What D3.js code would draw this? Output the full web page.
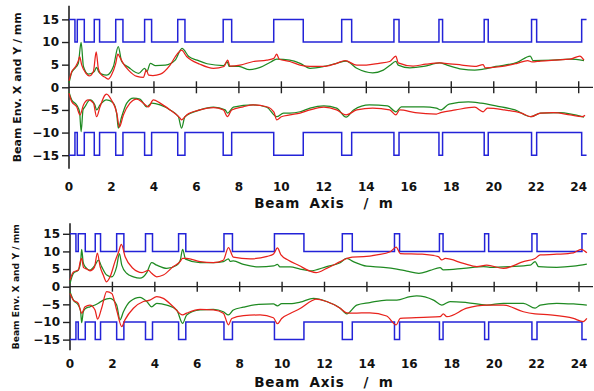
<!DOCTYPE html>
<html>
<head>
<meta charset="utf-8">
<script src="https://cdn.jsdelivr.net/npm/d3@7"></script>
<style>
  html, body { margin: 0; padding: 0; background: #fff; }
  svg { display: block; }
  text { font-family: "DejaVu Sans", sans-serif; font-weight: bold; fill: #111; }
</style>
</head>
<body>
<svg id="chart" width="594" height="391"></svg>
<script>
// ---------------- DATA ----------------
const xTicks = [0, 2, 4, 6, 8, 10, 12, 14, 16, 18, 20, 22, 24];
const yTicks = [-15, -10, -5, 0, 5, 10, 15];
const xTitle = "Beam Axis  / m";
const yTitle = "Beam Env. X and Y  / mm";

// aperture (blue): segment edges [m] and half-aperture [mm] of each segment
const apertureEdges = [0, 0.28, 0.39, 0.72, 1.19, 1.44, 2.20, 2.54, 3.56, 3.89, 5.12, 5.46, 7.26, 7.66, 9.64,
  11.03, 12.84, 13.31, 15.30, 15.54, 17.42, 17.59, 19.55, 19.74, 21.78, 22.02, 24.14, 24.37];
const apertureRadius = [15, 10, 15, 10, 15, 10, 15, 10, 15, 10, 15, 10, 15, 10, 15,
  10, 15, 10, 15, 10, 15, 10, 15, 10, 15, 10, 15];

// top panel envelopes [m, mm]
const topRedX = [[0,1.4],[0.13,3.5],[0.3,4.5],[0.45,6.0],[0.5,6.8],[0.6,4.9],[0.8,3.1],[0.95,2.5],[1.15,3.5],[1.28,7.8],[1.38,4.2],[1.5,2.9],[1.7,2.2],[1.85,1.8],[2.0,2.7],[2.2,5.3],[2.3,7.3],[2.4,6.6],[2.55,5.3],[2.8,3.8],[3.2,2.4],[3.5,2.2],[3.64,3.8],[3.75,2.7],[3.95,2.6],[4.3,2.9],[4.76,4.9],[5.1,7.4],[5.3,8.2],[5.54,6.8],[6.17,5.1],[6.8,4.2],[7.3,4.6],[7.47,6.0],[7.58,4.7],[8.05,4.9],[8.68,5.7],[9.31,6.0],[9.65,6.4],[9.78,7.3],[9.9,6.2],[10.4,5.7],[10.88,4.9],[11.35,4.6],[12,4.6],[12.6,5.3],[13.0,5.9],[13.55,4.9],[14.0,4.9],[14.6,5.3],[15.1,5.7],[15.39,6.9],[15.5,5.4],[16.2,4.7],[16.8,5.1],[17.45,5.4],[17.7,5.3],[18.5,4.9],[19.1,4.6],[19.5,5.0],[19.6,4.3],[20.4,4.6],[21.1,5.3],[21.6,5.9],[21.8,5.6],[22.2,5.8],[22.8,6.0],[23.6,6.2],[24.05,6.9],[24.25,6.0]];
const topGreenX = [[0,0.9],[0.13,3.3],[0.28,4.2],[0.44,5.3],[0.57,9.9],[0.68,4.6],[0.91,2.9],[1.19,3.5],[1.3,4.4],[1.4,3.4],[1.54,2.9],[1.77,2.7],[2.09,4.6],[2.32,9.0],[2.48,5.7],[2.81,4.4],[3.28,3.1],[3.56,4.2],[3.67,3.5],[3.83,5.3],[4.07,4.8],[4.54,4.9],[5.0,6.0],[5.32,8.6],[5.64,6.8],[6.03,6.0],[6.5,5.2],[7.27,4.8],[7.45,5.6],[7.55,4.6],[8.0,4.6],[8.5,3.9],[9.0,4.4],[9.5,5.6],[9.78,6.2],[10.4,6.0],[10.88,5.3],[11.35,4.2],[12,4.6],[12.6,5.3],[13.05,5.8],[13.55,4.2],[14.3,3.2],[14.8,3.8],[15.1,4.8],[15.39,5.7],[15.5,4.9],[16.05,4.3],[16.7,4.6],[17.45,5.4],[17.8,4.9],[18.5,4.0],[19.1,3.8],[19.5,4.0],[20.1,4.6],[21.1,5.5],[21.72,6.9],[21.85,5.9],[22.8,6.0],[23.6,6.2],[24.25,5.9]];
const topRedY = [[0,-1.3],[0.13,-3.2],[0.36,-4.3],[0.52,-6.1],[0.68,-3.9],[0.91,-2.8],[1.15,-3.5],[1.3,-6.5],[1.46,-4.3],[1.7,-1.7],[1.77,-1.5],[2.0,-2.8],[2.25,-5.7],[2.37,-8.8],[2.56,-6.1],[2.87,-3.5],[3.19,-2.6],[3.5,-3.5],[3.74,-4.3],[3.97,-2.8],[4.29,-3.5],[4.76,-5.0],[5.23,-6.8],[5.3,-7.2],[5.54,-6.1],[6.17,-5.0],[6.8,-4.5],[7.27,-5.0],[7.46,-6.5],[7.66,-5.0],[8.2,-4.3],[8.68,-3.9],[9.31,-4.3],[9.65,-5.5],[9.78,-7.2],[10.0,-6.5],[10.4,-6.1],[10.88,-5.7],[11.35,-5.0],[12,-4.4],[12.6,-5.0],[13.05,-6.1],[13.55,-5.0],[14.3,-4.6],[15.1,-5.0],[15.39,-6.1],[15.57,-5.0],[16.3,-5.6],[17.3,-5.9],[17.5,-5.6],[18.2,-5.0],[19.1,-4.4],[19.5,-5.4],[19.7,-4.6],[20.5,-5.0],[21.3,-5.7],[21.75,-6.5],[22.2,-5.7],[22.8,-5.6],[23.6,-6.1],[24.15,-6.5],[24.3,-6.2]];
const topGreenY = [[0,-1.0],[0.13,-2.8],[0.36,-3.9],[0.5,-5.5],[0.57,-9.8],[0.66,-5.0],[0.75,-4.3],[0.99,-2.8],[1.22,-3.9],[1.3,-5.0],[1.46,-3.9],[1.77,-2.8],[2.09,-3.5],[2.25,-6.0],[2.32,-9.0],[2.48,-6.5],[2.72,-3.5],[3.03,-2.4],[3.34,-2.6],[3.66,-4.3],[3.9,-3.5],[4.29,-3.9],[4.76,-5.0],[5.15,-6.5],[5.3,-9.0],[5.46,-6.5],[6.17,-5.0],[6.8,-4.4],[7.35,-5.0],[7.47,-5.7],[7.74,-4.4],[8.68,-3.9],[9.31,-4.4],[9.78,-6.5],[10.1,-5.7],[10.4,-5.7],[10.88,-5.4],[11.35,-4.6],[12,-4.1],[12.6,-4.6],[13.05,-6.6],[13.4,-5.0],[14.15,-3.9],[15,-4.1],[15.39,-5.4],[15.65,-4.3],[16.7,-4.3],[17.3,-4.6],[17.5,-5.0],[17.9,-3.7],[18.8,-3.2],[19.4,-3.5],[20.1,-4.1],[21,-5.0],[21.75,-6.5],[22.2,-5.7],[23.1,-5.6],[24.25,-6.6]];

// bottom panel envelopes [m, mm]
const botRedX = [[0,1.9],[0.16,4.2],[0.39,4.7],[0.49,7.3],[0.55,8.0],[0.64,5.4],[0.79,5.0],[0.94,4.5],[1.15,5.5],[1.29,9.5],[1.42,5.7],[1.57,3.3],[1.72,1.4],[1.89,2.8],[2.12,7.1],[2.3,10.0],[2.42,12.0],[2.6,8.5],[2.95,5.3],[3.4,4.0],[3.7,4.6],[3.85,3.8],[4.09,2.8],[4.4,3.3],[4.87,5.7],[5.19,7.1],[5.31,8.0],[5.5,8.0],[6.13,7.1],[6.76,6.8],[7.23,7.5],[7.47,11.1],[7.7,8.4],[8.5,7.9],[9.3,8.6],[9.6,9.3],[9.78,11.0],[9.95,9.0],[10.3,7.5],[10.8,6.0],[11.32,4.4],[11.6,4.0],[12.1,5.2],[12.74,7.1],[13.05,8.0],[13.3,8.4],[13.84,8.5],[14.47,9.0],[15.1,9.9],[15.38,11.2],[15.57,9.4],[16.6,9.2],[17.37,8.5],[17.53,7.6],[17.69,8.0],[18.55,6.6],[19.18,5.7],[19.65,6.1],[20.44,5.2],[21.38,7.1],[21.93,8.0],[22.17,9.0],[22.95,9.2],[23.74,9.6],[24.1,10.6],[24.37,9.6]];
const botGreenX = [[0,0.9],[0.16,3.8],[0.39,4.7],[0.5,7.0],[0.55,10.6],[0.62,7.0],[0.71,5.7],[0.94,4.7],[1.18,6.1],[1.34,7.5],[1.49,5.7],[1.73,3.3],[1.97,2.8],[2.2,5.7],[2.33,9.4],[2.44,6.1],[2.67,3.8],[2.99,2.8],[3.3,2.4],[3.62,4.0],[3.85,6.8],[4.09,6.1],[4.56,5.2],[5.03,6.1],[5.2,7.5],[5.31,10.6],[5.45,7.8],[6.13,6.8],[6.76,6.8],[7.23,7.1],[7.47,7.9],[7.55,7.2],[7.7,7.3],[8.18,6.3],[8.9,5.6],[9.6,5.9],[9.78,6.3],[9.9,5.6],[10.38,5.6],[10.85,5.0],[11.32,4.5],[12.1,5.7],[12.74,6.8],[13.05,8.0],[13.36,7.1],[13.99,5.8],[14.78,5.5],[15.41,5.0],[15.88,4.4],[16.45,3.8],[16.98,4.6],[17.45,5.4],[17.6,4.8],[18.55,5.2],[19.5,5.7],[19.8,5.5],[20.75,5.7],[21.7,6.1],[21.93,7.1],[22.09,5.7],[22.95,5.5],[23.74,5.8],[24.37,6.4]];
const botRedY = [[0,-1.9],[0.16,-3.8],[0.39,-4.7],[0.55,-7.5],[0.71,-5.7],[0.94,-5.2],[1.18,-6.6],[1.3,-9.2],[1.49,-6.1],[1.73,-1.4],[1.97,-1.9],[2.2,-6.6],[2.44,-11.3],[2.59,-9.4],[2.99,-6.1],[3.46,-4.2],[3.77,-3.8],[4.09,-2.8],[4.4,-3.3],[4.87,-5.7],[5.31,-8.0],[5.5,-7.5],[6.13,-6.4],[6.76,-6.6],[7.23,-7.5],[7.47,-10.8],[7.63,-9.0],[8.18,-8.2],[8.96,-8.0],[9.59,-8.8],[9.78,-10.5],[9.98,-9.0],[10.38,-7.6],[10.85,-6.2],[11.4,-4.0],[11.6,-3.5],[12.1,-4.2],[12.74,-6.1],[13.05,-7.4],[13.36,-7.5],[14.14,-7.4],[14.93,-8.3],[15.38,-10.8],[15.57,-9.0],[16.67,-8.7],[17.45,-8.5],[17.6,-7.7],[17.77,-8.5],[18.71,-6.1],[19.65,-5.2],[20.44,-5.2],[21.38,-7.1],[21.93,-7.7],[22.64,-8.0],[23.74,-9.0],[24.2,-9.9],[24.37,-9.0]];
const botGreenY = [[0,-1.4],[0.16,-3.8],[0.39,-5.2],[0.5,-7.0],[0.55,-10.2],[0.63,-7.0],[0.75,-6.1],[0.94,-5.7],[1.18,-5.2],[1.34,-4.7],[1.57,-3.8],[1.89,-3.3],[2.2,-5.2],[2.36,-9.4],[2.52,-7.1],[2.83,-4.2],[3.3,-3.0],[3.62,-4.2],[3.85,-5.7],[4.09,-4.7],[4.56,-5.2],[5.03,-6.6],[5.31,-10.4],[5.5,-8.0],[6.13,-6.6],[6.76,-6.4],[7.23,-7.1],[7.47,-8.0],[7.7,-6.6],[8.18,-5.8],[8.9,-5.0],[9.59,-4.9],[9.78,-5.4],[9.98,-4.8],[10.38,-4.8],[10.85,-4.4],[11.48,-3.3],[12.1,-4.2],[12.74,-6.1],[13.05,-7.7],[13.52,-5.2],[14.14,-4.5],[14.93,-3.8],[15.41,-3.8],[16.04,-2.8],[16.35,-2.6],[17.14,-3.8],[17.53,-5.2],[17.92,-4.2],[18.71,-4.5],[19.65,-5.2],[20.44,-4.7],[21.38,-4.7],[21.93,-6.1],[22.17,-5.2],[22.95,-4.7],[23.74,-4.9],[24.37,-5.2]];

// ---------------- DRAW ----------------
const colors = { aperture: "#2323d8", red: "#e8221c", green: "#1f8a22" };
const svg = d3.select("#chart");

const apertureUpper = apertureRadius.map((r, i) => [apertureEdges[i], r]);
apertureUpper.push([apertureEdges[apertureEdges.length - 1], apertureRadius[apertureRadius.length - 1]]);
const apertureLower = apertureUpper.map(d => [d[0], -d[1]]);

const panels = [
  { x0: 69, x1: 578.7, yTop: 5.8, yBot: 168.8, tick: 6, tickLabelY: 187, titleY: 203, yTitleX: 17, yTitleSize: 11,
    red: [topRedX, topRedY], green: [topGreenX, topGreenY] },
  { x0: 70, x1: 579, yTop: 223.2, yBot: 350.2, tick: 5, tickLabelY: 364, titleY: 382, yTitleX: 15, yTitleSize: 9.2,
    red: [botRedX, botRedY], green: [botGreenX, botGreenY] }
];

panels.forEach(p => {
  const x = d3.scaleLinear().domain([0, 24]).range([p.x0, p.x1]);
  const y = d3.scaleLinear().domain([-18, 18]).range([p.yBot, p.yTop]);
  const g = svg.append("g");

  // y axis
  const yAxis = d3.axisLeft(y).tickValues(yTicks).tickSize(7).tickPadding(3).tickFormat(d3.format("d"));
  const ya = g.append("g").attr("transform", `translate(${x(0)},0)`).call(yAxis);
  ya.select(".domain").attr("d", `M0,${y(18)}V${y(-18)}`).attr("stroke", "#222").attr("stroke-width", 1.6);
  ya.selectAll(".tick line").attr("stroke", "#222").attr("stroke-width", 1.4);
  ya.selectAll(".tick text").attr("font-size", 12).attr("font-family", "DejaVu Sans").attr("font-weight", "bold").attr("fill", "#111");

  // x axis line through zero, ticks crossing it
  g.append("line").attr("x1", x(0)).attr("x2", 593).attr("y1", y(0)).attr("y2", y(0))
    .attr("stroke", "#222").attr("stroke-width", 1.2);
  g.selectAll(".xt").data(xTicks.filter(d => d > 0)).enter().append("line")
    .attr("x1", d => x(d)).attr("x2", d => x(d))
    .attr("y1", y(0) - p.tick).attr("y2", y(0) + p.tick)
    .attr("stroke", "#222").attr("stroke-width", 1.4);
  g.selectAll(".xl").data(xTicks).enter().append("text")
    .attr("x", d => x(d)).attr("y", p.tickLabelY)
    .attr("text-anchor", "middle").attr("dominant-baseline", "central")
    .attr("font-size", 12).text(d => d);

  // titles
  g.append("text").attr("x", 324).attr("y", p.titleY).attr("text-anchor", "middle")
    .attr("dominant-baseline", "central").attr("font-size", 13.5)
    .attr("letter-spacing", 0.8).attr("word-spacing", 4).attr("xml:space", "preserve").text(xTitle);
  g.append("text").attr("transform", `translate(${p.yTitleX},${(p.yTop + p.yBot) / 2}) rotate(-90)`)
    .attr("text-anchor", "middle").attr("dominant-baseline", "central")
    .attr("font-size", p.yTitleSize).text(yTitle);

  // aperture
  const stepLine = d3.line().x(d => x(d[0])).y(d => y(d[1])).curve(d3.curveStepAfter);
  [apertureUpper, apertureLower].forEach(a => {
    g.append("path").attr("d", stepLine(a)).attr("fill", "none")
      .attr("stroke", colors.aperture).attr("stroke-width", 1.5);
  });

  // envelopes
  const env = d3.line().x(d => x(d[0])).y(d => y(d[1])).curve(d3.curveMonotoneX);
  p.green.forEach(s => g.append("path").attr("d", env(s)).attr("fill", "none")
    .attr("stroke", colors.green).attr("stroke-width", 1.25));
  p.red.forEach(s => g.append("path").attr("d", env(s)).attr("fill", "none")
    .attr("stroke", colors.red).attr("stroke-width", 1.25));
});
</script>
</body>
</html>
